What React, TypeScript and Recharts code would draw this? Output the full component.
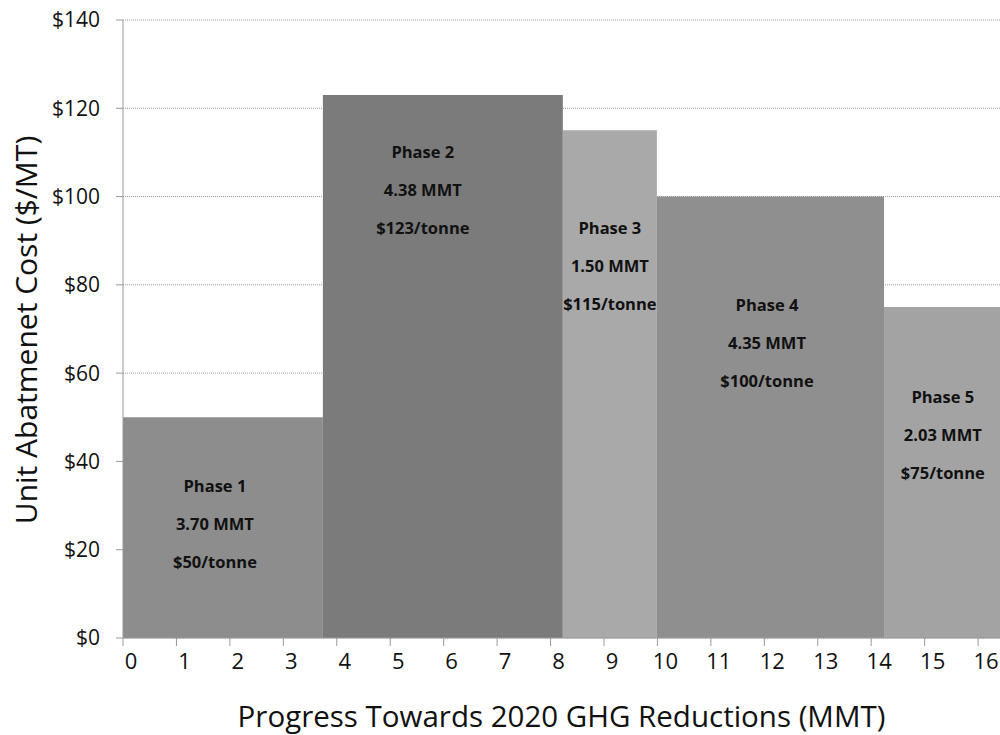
import React from "react";
import {
  ComposedChart,
  XAxis,
  YAxis,
  CartesianGrid,
  ReferenceArea,
  Scatter,
} from "recharts";

// phase boundaries (MMT, cumulative) and unit cost ($/MT)
const PHASES = ["Phase 1", "Phase 2", "Phase 3", "Phase 4", "Phase 5"];
const STARTS = [0, 3.74, 8.23, 9.99, 14.24];
const ENDS = [3.74, 8.23, 9.99, 14.24, 16.41];
const COSTS = [50, 123, 115, 100, 75];
const AMOUNTS = ["3.70 MMT", "4.38 MMT", "1.50 MMT", "4.35 MMT", "2.03 MMT"];
const PRICES = ["$50/tonne", "$123/tonne", "$115/tonne", "$100/tonne", "$75/tonne"];
const LABEL_X = [1.72, 5.61, 9.11, 12.05, 15.34];
const LABEL_Y = [25.8, 101.5, 84.3, 66.8, 46];
const FILLS = ["#8d8d8d", "#7b7b7b", "#a9a9a9", "#8f8f8f", "#a3a3a3"];

const X_TICKS = [0, 1, 2, 3, 4, 5, 6, 7, 8, 9, 10, 11, 12, 13, 14, 15, 16];
const Y_TICKS = [0, 20, 40, 60, 80, 100, 120, 140];

const labelPoints = PHASES.map((name, i) => ({
  x: LABEL_X[i],
  y: LABEL_Y[i],
  name,
  amount: AMOUNTS[i],
  price: PRICES[i],
}));

const FONT = "'Open Sans', sans-serif";

function XTick(props: any) {
  const { x, y, payload } = props;
  return (
    <text x={x + 8} y={y + 23} textAnchor="middle" fill="#111" fontSize={22} fontFamily={FONT}>
      {payload.value}
    </text>
  );
}

function XTitle(props: any) {
  const { viewBox } = props;
  return (
    <text
      x={viewBox.x + viewBox.width / 2}
      y={viewBox.y + 89}
      textAnchor="middle"
      fill="#111"
      fontSize={29.5}
      fontFamily={FONT}
    >
      Progress Towards 2020 GHG Reductions (MMT)
    </text>
  );
}

function YTitle(props: any) {
  const { viewBox } = props;
  const x = 37;
  const y = viewBox.y + viewBox.height / 2 + 1;
  return (
    <text
      x={x}
      y={y}
      transform={`rotate(-90, ${x}, ${y})`}
      textAnchor="middle"
      fill="#111"
      fontSize={30}
      fontFamily={FONT}
    >
      Unit Abatmenet Cost ($/MT)
    </text>
  );
}

function PhaseLabel(props: any) {
  const { cx, cy, payload } = props;
  const style = { fontFamily: FONT, fontSize: 16.5, fontWeight: 700, fill: "#111" };
  return (
    <g>
      <text x={cx} y={cy - 38} dy={6} textAnchor="middle" {...style}>
        {payload.name}
      </text>
      <text x={cx} y={cy} dy={6} textAnchor="middle" {...style}>
        {payload.amount}
      </text>
      <text x={cx} y={cy + 38} dy={6} textAnchor="middle" {...style}>
        {payload.price}
      </text>
    </g>
  );
}

export default function App() {
  return (
    <div style={{ position: "absolute", left: 0, top: 0, background: "#fff" }}>
      <ComposedChart
        width={1000}
        height={735}
        margin={{ top: 20, right: 0, bottom: 0, left: 0 }}
      >
        <CartesianGrid
          vertical={false}
          stroke="#9a9a9a"
          strokeDasharray="1 1"
        />
        <XAxis
          type="number"
          dataKey="x"
          domain={[0, 16.41]}
          ticks={X_TICKS}
          allowDataOverflow
          height={97}
          stroke="#9a9a9a"
          tickSize={8}
          tickMargin={0}
          tick={<XTick />}
          label={<XTitle />}
        />
        <YAxis
          type="number"
          dataKey="y"
          domain={[0, 140]}
          ticks={Y_TICKS}
          width={123}
          stroke="#9a9a9a"
          tickSize={7}
          tickMargin={16}
          tick={{ fill: "#111", fontSize: 21, fontFamily: FONT }}
          tickFormatter={(v) => `$${v}`}
          label={<YTitle />}
        />
        {PHASES.map((p, i) => (
          <ReferenceArea
            key={p}
            x1={STARTS[i]}
            x2={ENDS[i]}
            y1={0}
            y2={COSTS[i]}
            fill={FILLS[i]}
            fillOpacity={1}
            stroke="none"
            ifOverflow="hidden"
          />
        ))}
        <Scatter
          data={labelPoints}
          isAnimationActive={false}
          shape={<PhaseLabel />}
        />
      </ComposedChart>
    </div>
  );
}
